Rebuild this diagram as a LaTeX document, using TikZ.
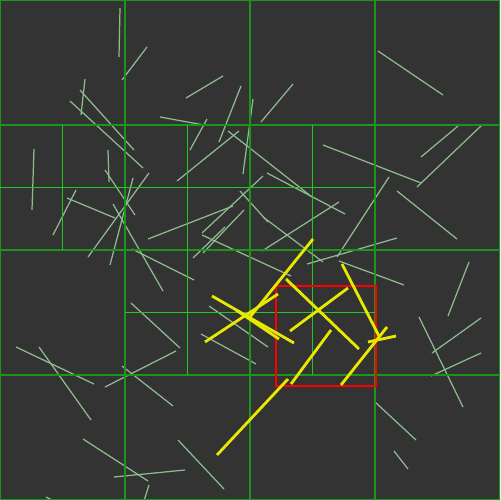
\documentclass[tikz,border=0pt]{standalone}
\usepackage{tikz}
\usetikzlibrary{positioning}
\definecolor{bgcol}{RGB}{51,51,51}
\definecolor{gridmaj}{RGB}{26,150,26}
\definecolor{gridmin}{RGB}{34,200,34}
\definecolor{segcol}{RGB}{143,188,143}
\definecolor{hitcol}{RGB}{232,232,0}
\tikzset{
  majline/.style={gridmaj,line width=0.8pt},
  minline/.style={gridmin,line width=0.6pt},
  seg/.style={segcol,line width=0.7pt},
  hit/.style={hitcol,line width=1.6pt},
  query/.style={red,line width=1.4pt}
}
\begin{document}
\begin{tikzpicture}[x=0.02cm,y=-0.02cm]
        \useasboundingbox (0,0) rectangle (500,500);
        \clip (0,0) rectangle (500,500);
        \fill[bgcol] (0,0) rectangle (500,500);
        % all segments
        \foreach \xa/\ya/\xb/\yb in {120/8/119/57, 147/47/122/80, 85/79/81/115, 80/90/134/150,
            70/101/143/168, 223/76/186/98, 241/86/219/142, 160/117/204/125, 207/119/190/150,
            253/99/243/174, 228/131/312/197, 239/131/177/181, 34/149/32/210, 108/150/109/182,
            105/170/135/215, 149/173/88/257, 133/178/110/265, 76/190/53/235, 67/198/115/218,
            113/204/163/291, 148/239/233/206, 202/233/263/176, 244/210/203/253, 225/227/193/258,
            202/235/291/276, 240/191/268/222, 132/249/194/280, 293/84/261/122, 378/51/443/95,
            458/126/421/157, 482/125/417/187, 323/145/421/183, 267/173/345/214, 263/217/323/262,
            339/202/262/251, 389/177/337/257, 397/191/457/239, 397/238/307/264, 16/347/94/384,
            39/347/91/420, 131/303/180/348, 176/351/105/387, 122/366/173/406, 83/439/148/481,
            114/477/185/470, 178/440/224/489, 149/485/143/504, 46/497/58/503, 209/306/268/347,
            201/334/256/364, 469/262/448/316, 481/318/432/353, 419/317/463/407, 481/353/431/376,
            375/402/416/440, 394/451/408/469, 339/261/404/285}
          \draw[seg] (\xa,\ya) -- (\xb,\yb);
        % quadtree cells
        \foreach \t in {0,125,250,375,500} {
          \draw[majline] (\t,0) -- (\t,500);
          \draw[majline] (0,\t) -- (500,\t);
        }
        \draw[minline] (0,187.5) -- (375,187.5);
        \draw[minline] (125,312.5) -- (375,312.5);
        \draw[minline] (62.5,125) -- (62.5,250);
        \draw[minline] (187.5,125) -- (187.5,375);
        \draw[minline] (312.5,125) -- (312.5,375);
        % query window and hits
        \draw[query] (276,286) rectangle (376,386);
        \foreach \xa/\ya/\xb/\yb in {313/239/250/317, 278/294/205/342, 212/296/294/343,
            236/310/279/339, 286/279/359/349, 348/288/290/331, 331/330/291/384,
            342/264/379/336, 387/327/341/385, 368/342/396/336, 288/379/217/455}
          \draw[hit] (\xa,\ya) -- (\xb,\yb);
      \end{tikzpicture}
\end{document}
